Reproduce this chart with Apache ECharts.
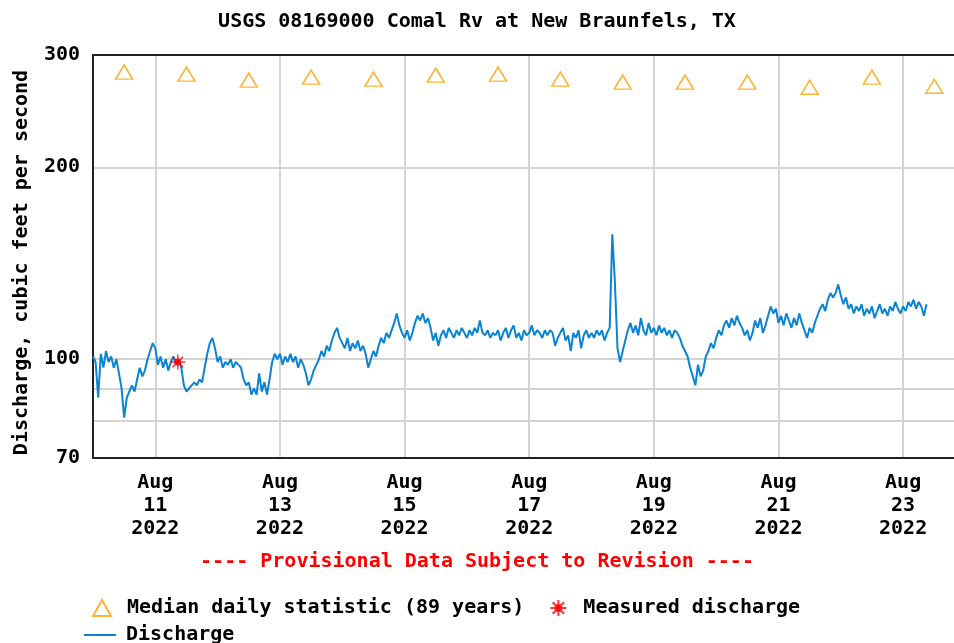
<!DOCTYPE html>
<html>
<head>
<meta charset="utf-8">
<title>USGS 08169000 Comal Rv at New Braunfels, TX</title>
<script src="https://cdn.jsdelivr.net/npm/echarts@6/dist/echarts.min.js"></script>
<style>
  html, body { margin: 0; padding: 0; background: #fff; }
  #main { width: 954px; height: 643px; }
</style>
</head>
<body>
<div id="main"></div>
<script>
// discharge, cfs, one value per hour starting Aug 10 2022 00:00
var dischargeAug10 = [101, 99, 87, 102, 97, 103, 99, 101, 97, 100, 95, 90, 81, 87, 89, 91, 89, 93, 97, 94, 96, 100, 103, 106];
var dischargeAug11 = [104, 98, 101, 97, 100, 96, 99, 101, 98, 100, 97, 91, 89, 90, 91, 92, 91, 93, 92, 97, 102, 106, 108, 104];
var dischargeAug12 = [99, 101, 97, 99, 98, 100, 97, 99, 98, 97, 93, 91, 92, 88, 90, 88, 95, 89, 92, 88, 93, 99, 102, 100];
var dischargeAug13 = [102, 98, 101, 99, 102, 99, 101, 97, 100, 98, 95, 91, 93, 96, 98, 100, 103, 101, 105, 103, 107, 110, 112, 108];
var dischargeAug14 = [106, 104, 108, 103, 106, 104, 107, 103, 105, 102, 97, 100, 103, 101, 105, 108, 106, 110, 108, 111, 114, 118, 113, 110];
var dischargeAug15 = [108, 111, 107, 110, 114, 117, 115, 118, 114, 116, 112, 107, 110, 105, 109, 111, 108, 112, 110, 108, 111, 109, 112, 110];
var dischargeAug16 = [108, 111, 109, 112, 110, 115, 110, 109, 111, 108, 110, 109, 111, 107, 110, 112, 108, 111, 113, 108, 110, 107, 111, 109];
var dischargeAug17 = [110, 113, 109, 111, 110, 108, 111, 109, 111, 110, 105, 108, 110, 112, 107, 109, 103, 110, 108, 111, 104, 109, 111, 108];
var dischargeAug18 = [110, 108, 111, 109, 111, 107, 110, 112, 157, 132, 104, 99, 103, 107, 111, 114, 110, 113, 109, 116, 111, 109, 114, 110];
var dischargeAug19 = [112, 109, 113, 110, 112, 109, 111, 108, 111, 110, 108, 105, 103, 101, 97, 94, 91, 98, 94, 96, 101, 103, 106, 104];
var dischargeAug20 = [108, 111, 109, 113, 115, 112, 116, 113, 117, 114, 112, 109, 111, 107, 110, 115, 112, 116, 110, 113, 117, 121, 118, 120];
var dischargeAug21 = [114, 117, 113, 118, 115, 112, 116, 113, 118, 114, 111, 108, 112, 110, 114, 117, 120, 122, 119, 124, 127, 125, 127, 131];
var dischargeAug22 = [126, 122, 125, 120, 122, 118, 121, 119, 122, 117, 120, 118, 121, 116, 119, 122, 118, 120, 117, 121, 119, 123, 120, 118];
var dischargeAug23 = [121, 119, 123, 121, 124, 120, 123, 121, 117, 122];

// median daily statistic (89 years), one per day Aug 10 .. Aug 23
var medianDays = [10, 11, 12, 13, 14, 15, 16, 17, 18, 19, 20, 21, 22, 23];
var medianValues = [282, 280, 274, 277, 275, 279, 280, 275, 272, 272, 272, 267, 277, 268];

// field measurement
var measuredTime = [2022, 7, 11, 8, 40];
var measuredValue = 99;

// axis ticks
var xTickDays = [11, 13, 15, 17, 19, 21, 23];
var yTickLabels = [70, 100, 200, 300];
var yGridValues = [70, 80, 90, 100, 200, 300];

var FONT = '"DejaVu Sans Mono", "Liberation Mono", monospace';
var HOUR = 3600 * 1000;
var start = Date.UTC(2022, 7, 10, 0, 0);
var end = start + 331.6 * HOUR;   // plot is cut off at the right edge, a bit before Aug 24

var allDischarge = [].concat(dischargeAug10, dischargeAug11, dischargeAug12, dischargeAug13,
  dischargeAug14, dischargeAug15, dischargeAug16, dischargeAug17, dischargeAug18,
  dischargeAug19, dischargeAug20, dischargeAug21, dischargeAug22, dischargeAug23);
var dischargeData = allDischarge.map(function (v, i) { return [start + i * HOUR, v]; });
var medianData = medianDays.map(function (d, i) { return [Date.UTC(2022, 7, d, 12, 0), medianValues[i]]; });
var measuredData = [[Date.UTC.apply(null, measuredTime), measuredValue]];
var xTicks = xTickDays.map(function (d) { return Date.UTC(2022, 7, d, 0, 0); });

// asterisk used for the measured value
var starPath = 'path://M8,0L8,16M0,8L16,8M2.3,2.3L13.7,13.7M2.3,13.7L13.7,2.3M5,7L7,5L9,5L11,7L11,9L9,11L7,11L5,9Z';

var txt = { fontFamily: FONT, fontWeight: 'bold', fontSize: 20, color: '#000' };

var chart = echarts.init(document.getElementById('main'));
chart.setOption({
  backgroundColor: '#fff',
  animation: false,
  title: [{
    text: 'USGS 08169000 Comal Rv at New Braunfels, TX',
    left: 'center',
    top: 12,
    padding: 0,
    textStyle: txt
  }, {
    text: '---- Provisional Data Subject to Revision ----',
    left: 'center',
    top: 552,
    padding: 0,
    textStyle: Object.assign({}, txt, { color: '#ff0000' })
  }],
  legend: [{
    left: 92, top: 598,
    padding: 0,
    itemGap: 25, itemWidth: 18, itemHeight: 16,
    data: ['Median daily statistic (89 years)', 'Measured discharge'],
    textStyle: Object.assign({}, txt, { padding: [0, 0, 0, 11] })
  }, {
    left: 84, top: 625,
    padding: 0,
    itemWidth: 32, itemHeight: 2,
    data: [{ name: 'Discharge', icon: 'rect' }],
    textStyle: Object.assign({}, txt, { padding: [0, 0, 0, 5] })
  }],
  grid: {
    left: 93, top: 55, right: 0, bottom: 185
  },
  xAxis: [{
    type: 'value',
    min: start,
    max: end,
    axisLine: { show: true, onZero: false, lineStyle: { color: '#222', width: 2 } },
    axisTick: { show: false, customValues: xTicks },
    axisLabel: Object.assign({
      customValues: xTicks,
      margin: 13,
      lineHeight: 23,
      formatter: function (v) {
        var d = new Date(v);
        return 'Aug\n' + d.getUTCDate() + '\n' + d.getUTCFullYear();
      }
    }, txt),
    splitLine: { show: true, lineStyle: { color: '#d4d4d4', width: 2 } }
  }, {
    // top frame line only
    type: 'value',
    position: 'top',
    min: start,
    max: end,
    axisLine: { show: true, onZero: false, lineStyle: { color: '#222', width: 2 } },
    axisTick: { show: false },
    axisLabel: { show: false },
    splitLine: { show: false }
  }],
  yAxis: {
    type: 'log',
    logBase: 10,
    min: 70,
    max: 300,
    name: 'Discharge, cubic feet per second',
    nameLocation: 'middle',
    nameGap: 61,
    nameTextStyle: Object.assign({}, txt, { padding: [0, 12, 0, 0] }),
    axisLine: { show: true, onZero: false, lineStyle: { color: '#222', width: 2 } },
    axisTick: { show: false, customValues: yGridValues },
    axisLabel: Object.assign({ customValues: yTickLabels, margin: 13 }, txt),
    splitLine: { show: true, lineStyle: { color: '#d4d4d4', width: 2 } }
  },
  series: [{
    name: 'Median daily statistic (89 years)',
    type: 'scatter',
    symbol: 'triangle',
    symbolSize: [17, 14],
    itemStyle: { color: '#fff', borderColor: '#ffa000', borderWidth: 1.5 },
    data: medianData,
    z: 3
  }, {
    name: 'Measured discharge',
    type: 'scatter',
    symbol: starPath,
    symbolSize: 15,
    itemStyle: { color: '#ff0000', borderColor: '#ff0000', borderWidth: 1.5 },
    data: measuredData,
    z: 4
  }, {
    name: 'Discharge',
    type: 'line',
    symbol: 'none',
    showSymbol: false,
    lineStyle: { color: '#0a84d2', width: 2 },
    itemStyle: { color: '#0a84d2' },
    data: dischargeData,
    z: 2
  }]
});
</script>
</body>
</html>
